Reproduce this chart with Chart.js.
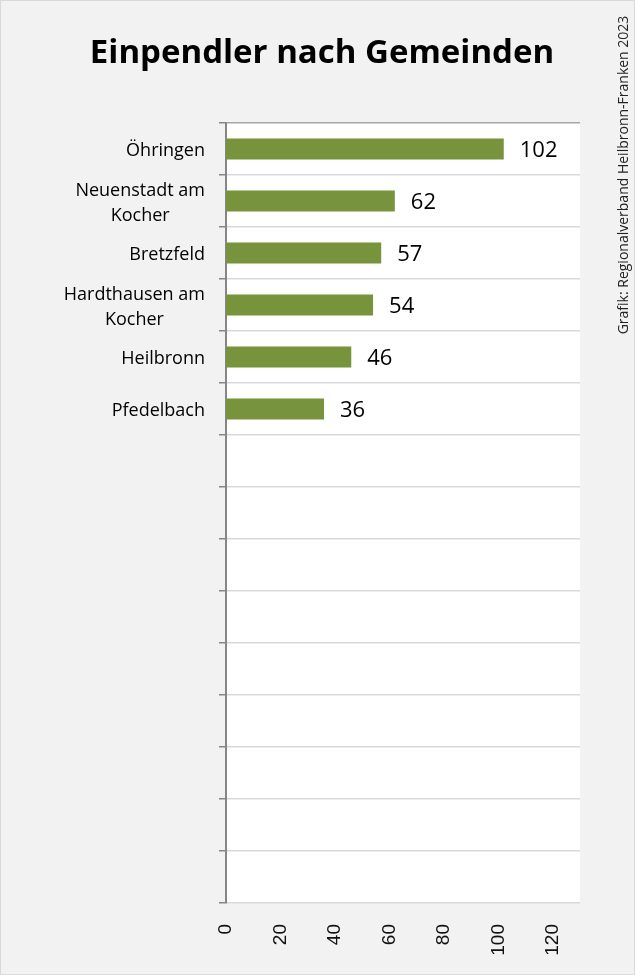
<!DOCTYPE html>
<html>
<head>
<meta charset="utf-8">
<script src="https://cdn.jsdelivr.net/npm/chart.js@4.4.0/dist/chart.umd.min.js"></script>
<style>
  html, body { margin: 0; padding: 0; background: #f2f2f2; }
</style>
</head>
<body>
<canvas id="myChart" width="635" height="975"></canvas>
<script>
const gemeinden = [
  ['Öhringen'], ['Neuenstadt am', 'Kocher'], ['Bretzfeld'], ['Hardthausen am', 'Kocher'],
  ['Heilbronn'], ['Pfedelbach'], [''], [''], [''], [''], [''], [''], [''], [''], [''],
];
const einpendler = [102, 62, 57, 54, 46, 36, null, null, null, null, null, null, null, null, null];
const xTickValues = [0, 20, 40, 60, 80, 100, 120];
const titel = 'Einpendler nach Gemeinden';
const quelle = 'Grafik: Regionalverband Heilbronn-Franken 2023';

// background, frame and white plot area
const background = {
  id: 'background',
  beforeDraw(c) {
    const { ctx, chartArea } = c;
    ctx.save();
    ctx.fillStyle = '#f2f2f2';
    ctx.fillRect(0, 0, c.width, c.height);
    ctx.strokeStyle = '#d9d9d9';
    ctx.lineWidth = 1;
    ctx.strokeRect(0.5, 0.5, c.width - 1, c.height - 1);
    ctx.fillStyle = '#ffffff';
    ctx.fillRect(chartArea.left, chartArea.top, chartArea.right - chartArea.left, chartArea.bottom - chartArea.top);
    ctx.restore();
  },
};

const texts = {
  id: 'texts',
  afterDraw(c) {
    const { ctx } = c;
    const yScale = c.scales.y;
    ctx.save();
    // title
    ctx.fillStyle = '#000';
    ctx.font = 'bold 33px "Open Sans"';
    ctx.textAlign = 'center';
    ctx.textBaseline = 'middle';
    ctx.fillText(titel, 322, 54);
    // category labels, lines centred on each other, block right aligned
    ctx.font = '18px "Open Sans"';
    gemeinden.forEach((lines, i) => {
      const y = yScale.getPixelForTick(i) + 2;
      const w = Math.max(...lines.map((l) => ctx.measureText(l).width));
      const cx = 205 - w / 2;
      const lh = 25;
      lines.forEach((l, k) => {
        ctx.fillText(l, cx, y + (k - (lines.length - 1) / 2) * lh);
      });
    });
    // source note
    ctx.font = '14px "Open Sans"';
    ctx.fillStyle = '#222';
    ctx.translate(624, 175);
    ctx.rotate(-Math.PI / 2);
    ctx.fillText(quelle, 0, 0);
    ctx.restore();
  },
};

const valueLabels = {
  id: 'valueLabels',
  afterDatasetsDraw(c) {
    const { ctx } = c;
    const meta = c.getDatasetMeta(0);
    ctx.save();
    ctx.fillStyle = '#000';
    ctx.font = '22px "Open Sans"';
    ctx.textAlign = 'left';
    ctx.textBaseline = 'middle';
    meta.data.forEach((bar, i) => {
      if (einpendler[i] === null) return;
      ctx.fillText(String(einpendler[i]), bar.x + 16, bar.y + 2);
    });
    ctx.restore();
  },
};

const ctx = document.getElementById('myChart').getContext('2d');
const myChart = new Chart(ctx, {
  type: 'bar',
  data: {
    labels: gemeinden,
    datasets: [{
      label: 'Einpendler',
      backgroundColor: '#77933c',
      data: einpendler,
      categoryPercentage: 1,
      barPercentage: 0.4,
    }],
  },
  options: {
    indexAxis: 'y',
    responsive: false,
    animation: false,
    devicePixelRatio: 1,
    layout: { padding: { top: 123, right: 55, left: 0, bottom: 0 } },
    plugins: {
      legend: { display: false },
      tooltip: { enabled: false },
      title: { display: false },
    },
    scales: {
      y: {
        afterFit(scale) { scale.width = 226; },
        ticks: { display: false },
        grid: {
          offset: true,
          color: (c) => (c.index === 0 ? '#a6a6a6' : '#d9d9d9'),
          lineWidth: 1.5,
          tickColor: '#868686',
          tickLength: 7,
        },
        border: { display: true, color: '#868686', width: 2 },
      },
      x: {
        min: 0,
        max: 130,
        afterFit(scale) { scale.height = 72; },
        afterBuildTicks(scale) {
          scale.ticks = xTickValues.map((v) => ({ value: v }));
        },
        grid: { display: false },
        border: { display: false },
        ticks: {
          minRotation: 90,
          maxRotation: 90,
          padding: 13,
          color: '#111',
          font: { family: 'Liberation Sans', size: 19 },
        },
      },
    },
  },
  plugins: [background, valueLabels, texts],
});
</script>
</body>
</html>
